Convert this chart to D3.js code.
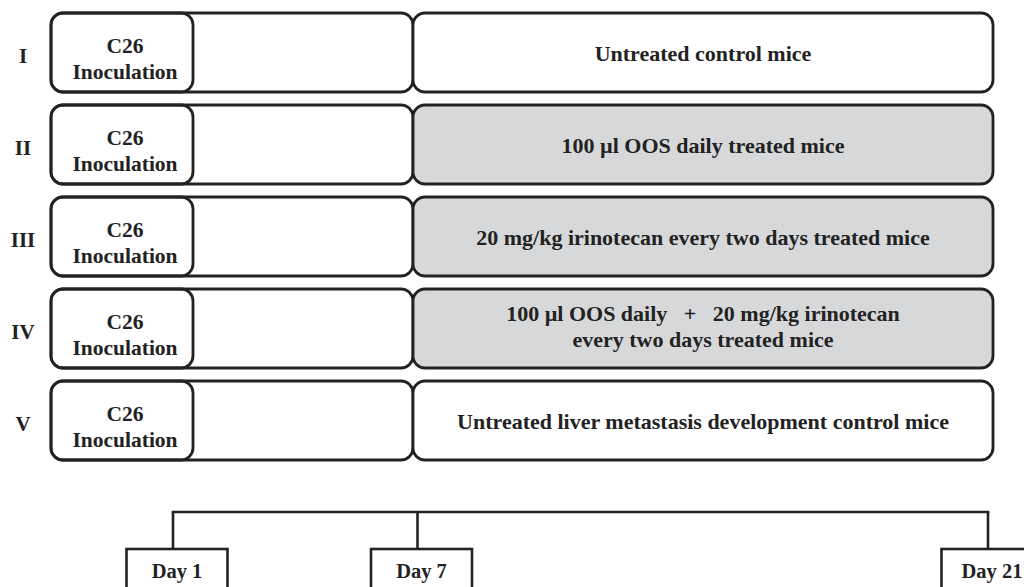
<!DOCTYPE html>
<html>
<head>
<meta charset="utf-8">
<script src="https://cdn.jsdelivr.net/npm/d3@7"></script>
<style>
  body { margin: 0; background: #fff; }
  text { font-family: "Liberation Serif", "Times New Roman", serif; font-weight: bold; fill: #222; }
</style>
</head>
<body>
<div id="chart"></div>
<script>
const groups = ['I', 'II', 'III', 'IV', 'V'];
const inoculation = ['C26', 'Inoculation'];
const treatments = [
  ['Untreated control mice'],
  ['100 µl OOS daily treated mice'],
  ['20 mg/kg irinotecan every two days treated mice'],
  ['100 µl OOS daily   +   20 mg/kg irinotecan', 'every two days treated mice'],
  ['Untreated liver metastasis development control mice']
];
const shaded = [false, true, true, true, false];
const days = [1, 7, 21];

const width = 1024;
const height = 587;

const svg = d3.select('#chart')
  .append('svg')
  .attr('width', width)
  .attr('height', height);

// rows
const y = d3.scaleBand()
  .domain(groups)
  .range([13, 460])
  .paddingInner(13 / 92);

// time axis
const x = d3.scaleLinear()
  .domain([1, 21])
  .range([173, 988]);

const left = 51, c26Right = 193, split = 413, right = 993;
const stroke = '#222';

const row = svg.append('g')
  .selectAll('g')
  .data(groups)
  .join('g')
    .attr('transform', d => `translate(0,${y(d)})`);

const h = y.bandwidth();

row.append('rect')
  .attr('x', left)
  .attr('width', split - left)
  .attr('height', h)
  .attr('rx', 12)
  .attr('fill', '#fff')
  .attr('stroke', stroke)
  .attr('stroke-width', 2.8);

row.append('rect')
  .attr('x', left)
  .attr('width', c26Right - left)
  .attr('height', h)
  .attr('rx', 12)
  .attr('fill', 'none')
  .attr('stroke', stroke)
  .attr('stroke-width', 2.8);

row.append('rect')
  .attr('x', split)
  .attr('width', right - split)
  .attr('height', h)
  .attr('rx', 12)
  .attr('fill', (d, i) => shaded[i] ? '#d7d8da' : '#fff')
  .attr('stroke', stroke)
  .attr('stroke-width', 2.8);

row.append('text')
  .attr('x', 23)
  .attr('y', h / 2 + 10)
  .attr('text-anchor', 'middle')
  .attr('font-size', 21)
  .text(d => d);

row.append('g')
  .selectAll('text')
  .data(inoculation)
  .join('text')
    .attr('x', (left + c26Right) / 2 + 3)
    .attr('y', (d, i) => h / 2 + 0.5 + i * 26)
    .attr('text-anchor', 'middle')
    .attr('font-size', 21.5)
    .text(d => d);

row.append('g')
  .selectAll('text')
  .data((d, i) => treatments[i].map((t, j, a) => ({ t, j, n: a.length })))
  .join('text')
    .attr('x', (split + right) / 2)
    .attr('y', d => h / 2 + (d.n > 1 ? 5.5 : 8.5) + (d.j - (d.n - 1) / 2) * 26)
    .attr('text-anchor', 'middle')
    .attr('font-size', 22)
    .attr('xml:space', 'preserve')
    .style('white-space', 'pre')
    .text(d => d.t);

// timeline
const lineY = 512, boxTop = 549, boxW = 101;

svg.append('line')
  .attr('x1', x(days[0]))
  .attr('x2', x(days[days.length - 1]))
  .attr('y1', lineY)
  .attr('y2', lineY)
  .attr('stroke', stroke)
  .attr('stroke-width', 2.6)
  .attr('stroke-linecap', 'square');

const day = svg.append('g')
  .selectAll('g')
  .data(days)
  .join('g');

day.append('line')
  .attr('x1', d => x(d))
  .attr('x2', d => x(d))
  .attr('y1', lineY)
  .attr('y2', boxTop)
  .attr('stroke', stroke)
  .attr('stroke-width', 2.6);

day.append('rect')
  .attr('x', d => x(d) + 4 - boxW / 2)
  .attr('y', boxTop)
  .attr('width', boxW)
  .attr('height', 60)
  .attr('fill', '#fff')
  .attr('stroke', stroke)
  .attr('stroke-width', 2.6);

day.append('text')
  .attr('x', d => x(d) + 4)
  .attr('y', 578)
  .attr('text-anchor', 'middle')
  .attr('font-size', 20.5)
  .text(d => `Day ${d}`);
</script>
</body>
</html>
